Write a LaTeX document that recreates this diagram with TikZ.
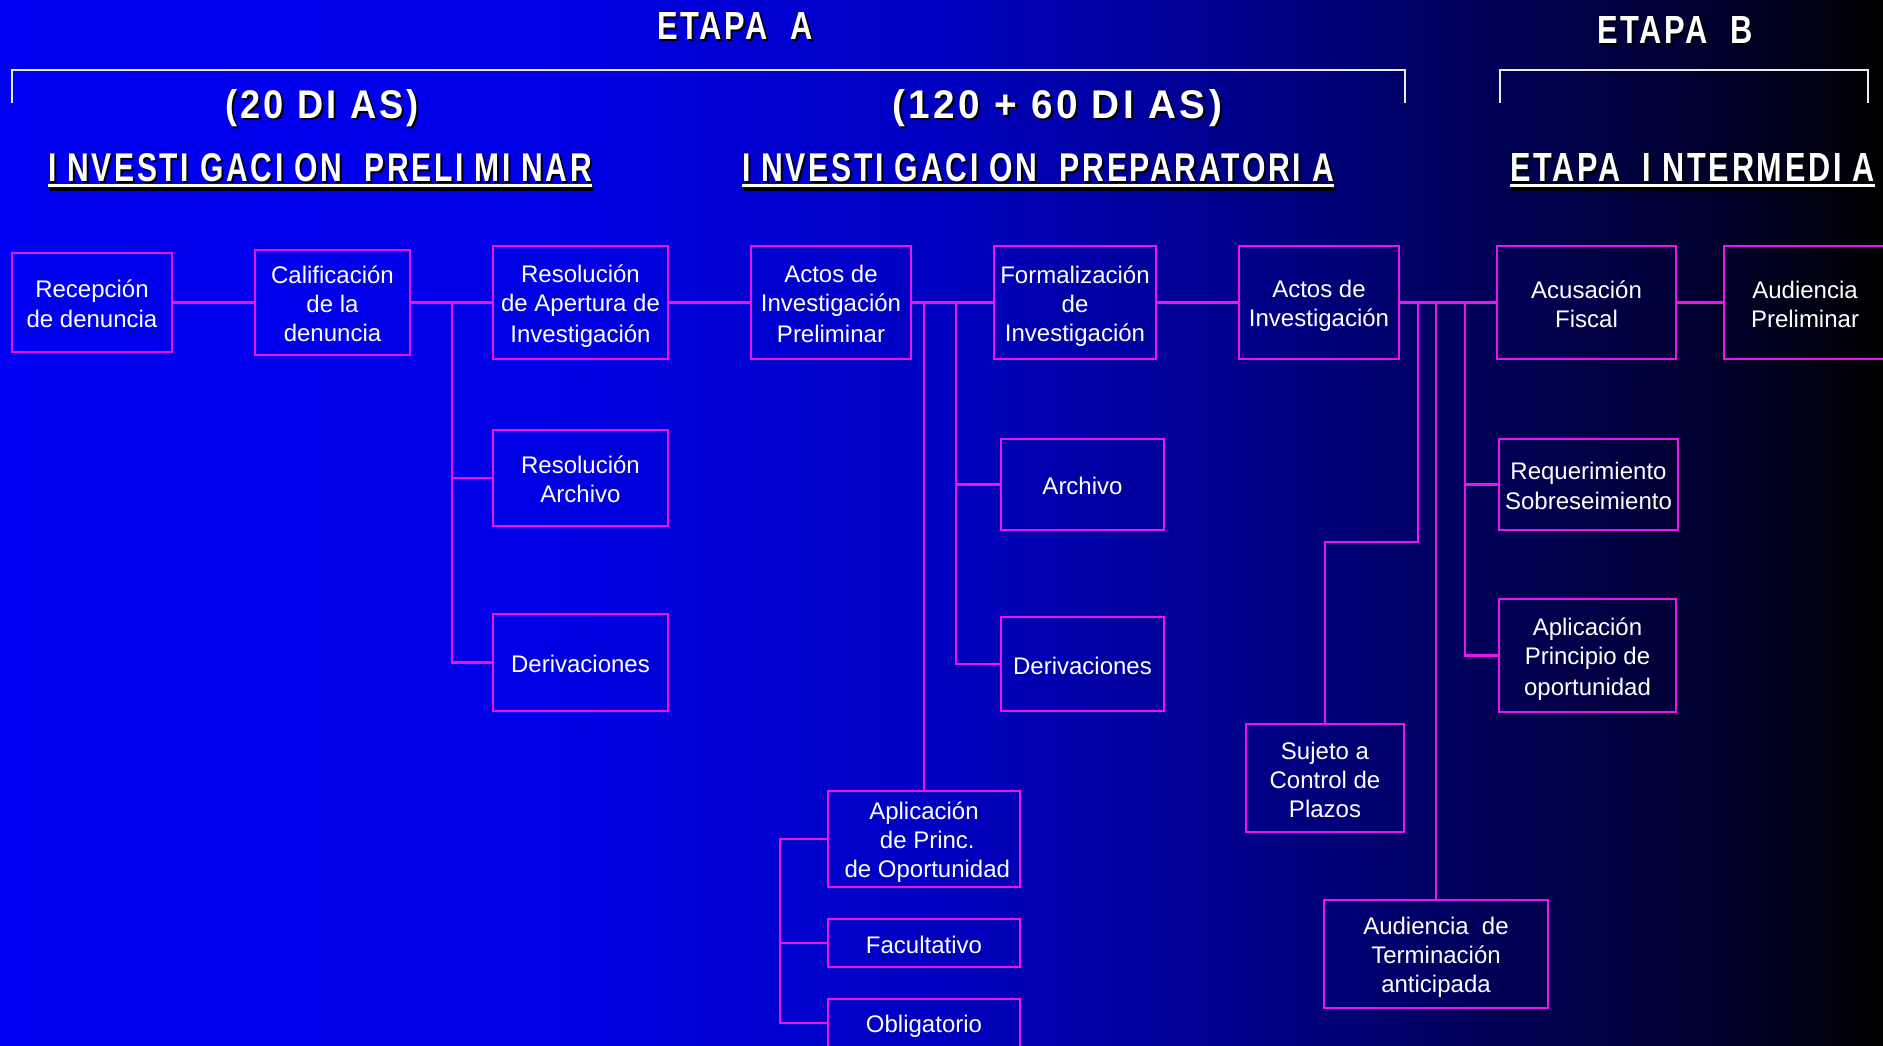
\documentclass[tikz,border=0pt]{standalone}
\usepackage{fontspec}
\usepackage{graphicx}
\setmainfont{Liberation Sans}
\newfontfamily\hdrfont{Liberation Sans}[LetterSpace=9]
\definecolor{mag}{RGB}{238,18,238}
\definecolor{brkc}{RGB}{235,235,240}
\definecolor{bgA}{RGB}{0,0,242}
\definecolor{bgB}{RGB}{0,0,232}
\definecolor{bgC}{RGB}{0,0,192}
\definecolor{bgD}{RGB}{0,0,142}
\definecolor{bgE}{RGB}{0,0,88}
\definecolor{bgF}{RGB}{0,0,50}
\pgfdeclarehorizontalshading{bgshade}{100bp}{color(0bp)=(bgA); color(25bp)=(bgA); color(38.5bp)=(bgB); color(50bp)=(bgC); color(57.5bp)=(bgD); color(64.5bp)=(bgE); color(70bp)=(bgF); color(75bp)=(black); color(100bp)=(black)}
\newcommand{\ls}{\rule[-4.5pt]{0pt}{29pt}}
\newcommand{\hd}[3]{\resizebox{#1pt}{#2pt}{\hdrfont\bfseries #3}}
\tikzset{
  bx/.style={draw=mag, line width=2.4pt, inner sep=0pt, outer sep=0pt, align=center, text=white,
    font=\fontsize{24}{29}\selectfont},
  ln/.style={draw=mag, line width=2.4pt},
  brk/.style={draw=brkc, line width=2.6pt},
  hw/.style={anchor=base west, inner sep=0pt, outer sep=0pt, text=white},
  hs/.style={anchor=base west, inner sep=0pt, outer sep=0pt, text=black},
  ul/.style={draw=white, line width=3pt},
  uls/.style={draw=black, line width=3pt}
}
\begin{document}
\begin{tikzpicture}[x=1pt,y=-1pt]
\useasboundingbox (0,0) rectangle (1883,1046);
\shade[shading=bgshade] (0,0) rectangle (1883,1046);
\clip (0,0) rectangle (1883,1046);

% brackets
\draw[brk] (12,103) -- (12,70) -- (1405,70) -- (1405,103);
\draw[brk] (1500,103) -- (1500,70) -- (1868,70) -- (1868,103);

% header shadows
\node[hs] (hAs) at (659,42) {\hd{156}{27}{ETAPA\ \ A}};
\node[hs] (hBs) at (1599,46) {\hd{156}{27}{ETAPA\ \ B}};
\node[hs] (h20s) at (227,121) {\hd{194}{29}{(20 DI AS)}};
\node[hs] (h120s) at (894,121) {\hd{330}{29}{(120 + 60 DI AS)}};
\node[hs] (hPLs) at (50,184) {\hd{544}{28}{I NVESTI GACI ON\ \ PRELI MI NAR}};
\node[hs] (hPPs) at (744,184) {\hd{592}{28}{I NVESTI GACI ON\ \ PREPARATORI A}};
\node[hs] (hEIs) at (1512,184) {\hd{365}{28}{ETAPA\ \ I NTERMEDI A}};
\draw[uls] ([yshift=-6pt]hPLs.base west) -- ([yshift=-6pt]hPLs.base east);
\draw[uls] ([yshift=-6pt]hPPs.base west) -- ([yshift=-6pt]hPPs.base east);
\draw[uls] ([yshift=-6pt]hEIs.base west) -- ([yshift=-6pt]hEIs.base east);

% headers
\node[hw] (hA) at (657,40) {\hd{156}{27}{ETAPA\ \ A}};
\node[hw] (hB) at (1597,44) {\hd{156}{27}{ETAPA\ \ B}};
\node[hw] (h20) at (225,119) {\hd{194}{29}{(20 DI AS)}};
\node[hw] (h120) at (892,119) {\hd{330}{29}{(120 + 60 DI AS)}};
\node[hw] (hPL) at (48,182) {\hd{544}{28}{I NVESTI GACI ON\ \ PRELI MI NAR}};
\node[hw] (hPP) at (742,182) {\hd{592}{28}{I NVESTI GACI ON\ \ PREPARATORI A}};
\node[hw] (hEI) at (1510,182) {\hd{365}{28}{ETAPA\ \ I NTERMEDI A}};
\draw[ul] ([yshift=-4pt]hPL.base west) -- ([yshift=-4pt]hPL.base east);
\draw[ul] ([yshift=-4pt]hPP.base west) -- ([yshift=-4pt]hPP.base east);
\draw[ul] ([yshift=-4pt]hEI.base west) -- ([yshift=-4pt]hEI.base east);

% boxes
\node[bx, minimum width=160pt, minimum height=99pt] (rec) at (92,302.5) {\ls Recepción\\de denuncia\ls};
\node[bx, minimum width=155pt, minimum height=105pt] (cal) at (332.5,302.5) {\ls Calificación\\de la\\denuncia\ls};
\node[bx, minimum width=175pt, minimum height=113pt] (resA) at (580.5,302.5) {\ls Resolución\\de Apertura de\\Investigación\ls};
\node[bx, minimum width=175pt, minimum height=96pt] (resArch) at (580.5,478) {\ls Resolución\\Archivo\ls};
\node[bx, minimum width=175pt, minimum height=97pt] (der1) at (580.5,662.5) {\ls Derivaciones\ls};
\node[bx, minimum width=160pt, minimum height=113pt] (actP) at (831,302.5) {\ls Actos de\\Investigación\\Preliminar\ls};
\node[bx, minimum width=162pt, minimum height=113pt] (form) at (1075,302.5) {\ls Formalización\\de\\Investigación\ls};
\node[bx, minimum width=163pt, minimum height=91pt] (arch) at (1082.5,484.5) {\ls Archivo\ls};
\node[bx, minimum width=163pt, minimum height=94pt] (der2) at (1082.5,664) {\ls Derivaciones\ls};
\node[bx, minimum width=160pt, minimum height=113pt] (actI) at (1319,302.5) {\ls Actos de\\Investigación\ls};
\node[bx, minimum width=179pt, minimum height=113pt] (acu) at (1586.5,302.5) {\ls Acusación\\Fiscal\ls};
\node[bx, minimum width=162pt, minimum height=113pt] (audP) at (1805,302.5) {\ls Audiencia\\Preliminar\ls};
\node[bx, minimum width=179pt, minimum height=91pt] (req) at (1588.5,484.5) {\ls Requerimiento\\Sobreseimiento\ls};
\node[bx, minimum width=177pt, minimum height=113pt] (aplP) at (1587.5,655.5) {\ls Aplicación\\Principio de\\oportunidad\ls};
\node[bx, minimum width=158pt, minimum height=108pt] (suj) at (1325,778) {\ls Sujeto a\\Control de\\Plazos\ls};
\node[bx, minimum width=224pt, minimum height=108pt] (audT) at (1436,954) {\ls Audiencia\ \ de\\Terminación\\anticipada\ls};
\node[bx, minimum width=192pt, minimum height=96pt] (aplO) at (924,839) {\ls Aplicación\\\ de Princ.\\\ de Oportunidad\ls};
\node[bx, minimum width=192pt, minimum height=48pt] (fac) at (924,943) {\ls Facultativo\ls};
\node[bx, minimum width=192pt, minimum height=48pt] (obl) at (924,1023) {\ls Obligatorio\ls};

% bus coordinates
\coordinate (b1) at (452,0);
\coordinate (b3) at (956,0);
\coordinate (b4) at (780,0);
\coordinate (b5) at (1418,542);
\coordinate (b6) at (1465,0);

% connectors
\draw[ln] (rec.east) -- (cal.west);
\draw[ln] (cal.east) -- (resA.west);
\draw[ln] (b1 |- cal.east) |- (der1.west);
\draw[ln] (b1 |- resArch.west) -- (resArch.west);
\draw[ln] (resA.east) -- (actP.west);
\draw[ln] (actP.east) -- (form.west);
\draw[ln] (aplO.north |- actP.east) -- (aplO.north);
\draw[ln] (b3 |- actP.east) |- (der2.west);
\draw[ln] (b3 |- arch.west) -- (arch.west);
\draw[ln] (aplO.west) -- (b4 |- aplO.west) |- (obl.west);
\draw[ln] (b4 |- fac.west) -- (fac.west);
\draw[ln] (form.east) -- (actI.west);
\draw[ln] (actI.east) -- (acu.west);
\draw[ln] (acu.east) -- (audP.west);
\draw[ln] (b5 |- actI.east) -- (b5) -| (suj.north);
\draw[ln] (audT.north |- actI.east) -- (audT.north);
\draw[ln] (b6 |- actI.east) |- (aplP.west);
\draw[ln] (b6 |- req.west) -- (req.west);
\end{tikzpicture}
\end{document}
